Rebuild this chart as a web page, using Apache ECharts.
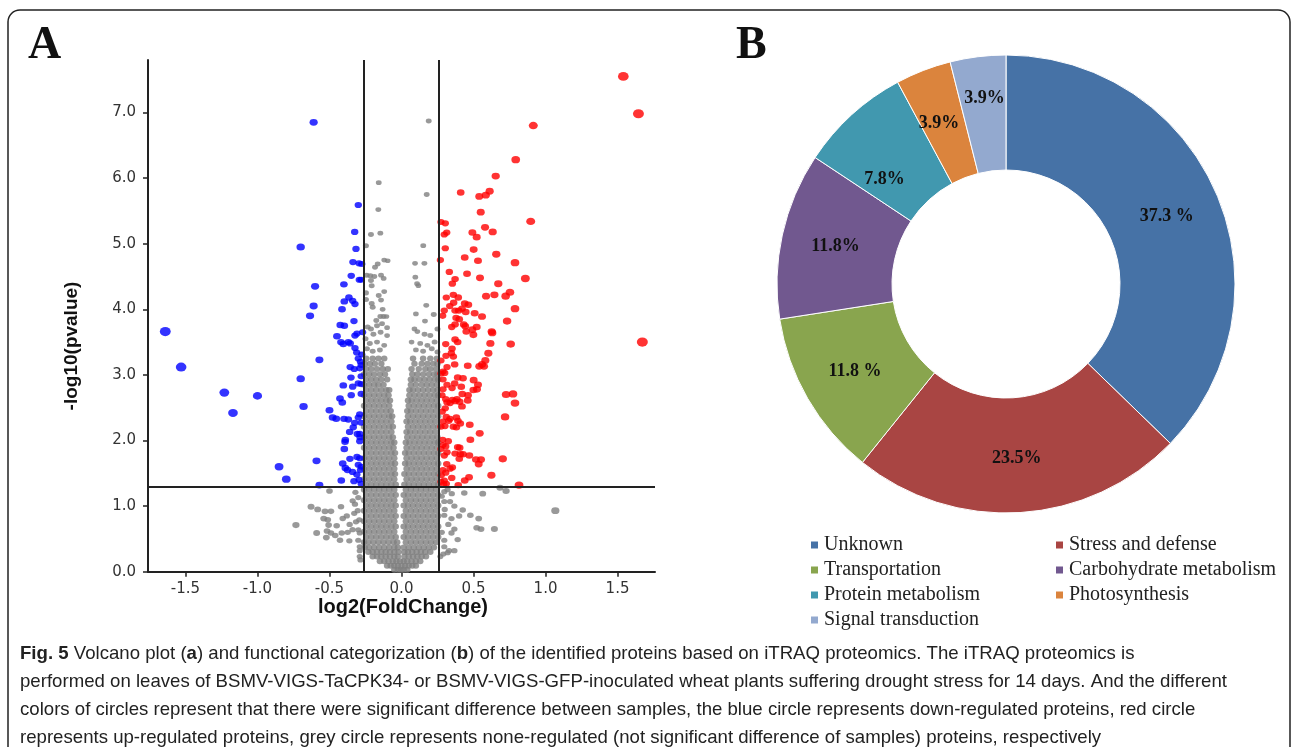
<!DOCTYPE html>
<html>
<head>
<meta charset="utf-8">
<script src="https://cdn.jsdelivr.net/npm/echarts@6/dist/echarts.min.js"></script>
<style>
html,body{margin:0;padding:0;background:#fff;}
#main{width:1293px;height:747px;}
</style>
</head>
<body>
<div id="main"></div>
<script>
// A: volcano plot, -log10(p) against log2(fold change)
var foldCut = [-0.263, 0.263];
var pCut = 1.301;
var xTicks = [-1.5, -1.0, -0.5, 0.0, 0.5, 1.0, 1.5];
var yTicks = [0, 1, 2, 3, 4, 5, 6, 7];

// down-regulated (blue)
var downPoints = [
  [-1.64,3.66],[-1.53,3.12],[-1.23,2.73],[-1.17,2.42],[-1.0,2.68],[-0.85,1.60],[-0.80,1.41],
  [-0.61,6.85],[-0.70,4.95],[-0.60,4.35],[-0.61,4.05],[-0.635,3.90],[-0.57,3.23],[-0.70,2.94],
  [-0.68,2.52],[-0.59,1.69],[-0.57,1.32],[-0.50,2.46],[-0.478,2.35],[-0.453,2.33],[-0.448,3.59],
  [-0.30,5.59],[-0.325,5.18],[-0.316,4.92],[-0.337,4.72],[-0.295,4.70],[-0.276,4.69],[-0.349,4.51],
  [-0.293,4.45],[-0.28,4.45],[-0.40,4.38],[-0.365,4.18],[-0.397,4.12],[-0.339,4.13],[-0.323,4.08],
  [-0.413,4.0],[-0.33,3.82],[-0.425,3.76],[-0.397,3.75],[-0.323,3.60],[-0.309,3.63],[-0.27,3.65],
  [-0.42,3.50],[-0.404,3.47],[-0.369,3.50],[-0.356,3.48],[-0.323,3.41],[-0.311,3.34],[-0.276,3.31],
  [-0.30,3.25],[-0.285,3.20],[-0.28,3.15],[-0.29,3.10],[-0.356,3.12],[-0.328,3.09],[-0.28,2.98],
  [-0.351,2.96],[-0.30,2.87],[-0.28,2.86],[-0.404,2.84],[-0.339,2.82],[-0.28,2.71],[-0.349,2.69],
  [-0.427,2.64],[-0.411,2.58],[-0.29,2.40],[-0.30,2.35],[-0.399,2.33],[-0.369,2.32],[-0.325,2.27],
  [-0.28,2.27],[-0.335,2.20],[-0.36,2.13],[-0.307,2.10],[-0.29,2.10],[-0.288,2.05],[-0.29,1.99],
  [-0.39,2.01],[-0.392,1.98],[-0.397,1.87],[-0.309,1.75],[-0.29,1.73],[-0.358,1.72],[-0.408,1.65],
  [-0.39,1.58],[-0.375,1.55],[-0.30,1.63],[-0.28,1.60],[-0.34,1.52],[-0.31,1.48],[-0.285,1.55],
  [-0.418,1.39],[-0.33,1.38],[-0.295,1.40],[-0.28,1.34]
];

// up-regulated (red)
var upPoints = [
  [1.54,7.55],[1.645,6.98],[1.672,3.50],[0.915,6.80],[0.793,6.28],[0.654,6.03],[0.411,5.78],
  [0.54,5.72],[0.585,5.74],[0.612,5.80],[0.55,5.48],[0.897,5.34],[0.274,5.33],[0.304,5.31],
  [0.297,5.14],[0.314,5.17],[0.492,5.17],[0.522,5.10],[0.58,5.25],[0.633,5.18],[0.304,4.93],
  [0.501,4.91],[0.439,4.79],[0.531,4.74],[0.658,4.84],[0.788,4.71],[0.27,4.75],[0.332,4.57],
  [0.455,4.54],[0.372,4.46],[0.353,4.39],[0.545,4.48],[0.672,4.39],[0.86,4.47],[0.753,4.26],
  [0.723,4.20],[0.587,4.20],[0.645,4.22],[0.311,4.18],[0.36,4.22],[0.394,4.18],[0.788,4.01],
  [0.335,4.05],[0.297,3.98],[0.286,3.90],[0.362,4.10],[0.372,3.98],[0.397,3.98],[0.42,4.01],
  [0.439,4.09],[0.464,4.07],[0.446,3.96],[0.508,3.94],[0.559,3.89],[0.379,3.87],[0.401,3.85],
  [0.349,3.73],[0.372,3.77],[0.432,3.77],[0.443,3.74],[0.733,3.82],[0.45,3.66],[0.492,3.69],
  [0.522,3.73],[0.626,3.66],[0.63,3.64],[0.499,3.61],[0.372,3.54],[0.39,3.50],[0.307,3.47],
  [0.617,3.48],[0.758,3.47],[0.351,3.40],[0.346,3.33],[0.603,3.33],[0.309,3.29],[0.36,3.28],
  [0.582,3.22],[0.274,3.22],[0.54,3.13],[0.559,3.16],[0.573,3.13],[0.316,3.12],[0.369,3.16],
  [0.46,3.14],[0.288,3.05],[0.274,3.02],[0.30,3.03],[0.39,2.96],[0.427,2.95],[0.288,2.93],
  [0.501,2.92],[0.316,2.85],[0.369,2.87],[0.415,2.82],[0.499,2.77],[0.524,2.78],[0.531,2.85],
  [0.288,2.78],[0.351,2.80],[0.726,2.70],[0.774,2.71],[0.422,2.71],[0.462,2.69],[0.281,2.69],
  [0.307,2.63],[0.316,2.58],[0.353,2.62],[0.385,2.63],[0.404,2.59],[0.337,2.57],[0.372,2.60],
  [0.46,2.61],[0.42,2.52],[0.788,2.57],[0.304,2.49],[0.283,2.44],[0.719,2.36],[0.311,2.36],
  [0.381,2.35],[0.392,2.30],[0.288,2.29],[0.328,2.30],[0.337,2.33],[0.36,2.21],[0.381,2.20],
  [0.408,2.26],[0.474,2.24],[0.274,2.21],[0.302,2.22],[0.543,2.11],[0.286,2.01],[0.325,1.99],
  [0.478,2.01],[0.288,1.93],[0.307,1.91],[0.274,1.87],[0.39,1.90],[0.404,1.89],[0.372,1.80],
  [0.408,1.79],[0.427,1.79],[0.471,1.77],[0.316,1.82],[0.297,1.77],[0.401,1.72],[0.517,1.71],
  [0.552,1.71],[0.703,1.72],[0.536,1.64],[0.314,1.64],[0.353,1.59],[0.337,1.57],[0.288,1.55],
  [0.307,1.51],[0.276,1.47],[0.624,1.47],[0.469,1.44],[0.439,1.39],[0.349,1.43],[0.297,1.39],
  [0.274,1.37],[0.394,1.32],[0.293,1.33],[0.311,1.34],[0.816,1.32]
];

// not regulated (grey): dense core, one row per -log10(p) level: [y, x, x, ...]
var greyCoreRows = [
  [0.03,-0.05,-0.025,-0.005,0.015,0.04],
  [0.09,-0.10,-0.075,-0.05,-0.025,0.0,0.025,0.05,0.075,0.10],
  [0.16,-0.15,-0.12,-0.09,-0.06,-0.035,-0.01,0.015,0.04,0.07,0.10,0.13],
  [0.23,-0.20,-0.17,-0.14,-0.11,-0.08,-0.05,-0.025,0.02,0.05,0.08,0.11,0.14,0.17],
  [0.30,-0.23,-0.20,-0.17,-0.14,-0.11,-0.08,-0.05,-0.02,0.02,0.045,0.075,0.105,0.135,0.165,0.20],
  [0.37,-0.255,-0.225,-0.19,-0.155,-0.12,-0.085,-0.05,-0.025,0.015,0.05,0.085,0.12,0.155,0.19,0.225],
  [0.45,-0.26,-0.23,-0.195,-0.16,-0.125,-0.09,-0.055,-0.03,0.03,0.065,0.10,0.135,0.17,0.205,0.24],
  [0.53,-0.245,-0.21,-0.175,-0.14,-0.105,-0.07,-0.04,0.015,0.045,0.08,0.115,0.15,0.185,0.22,0.255],
  [0.61,-0.26,-0.225,-0.19,-0.155,-0.12,-0.085,-0.05,0.03,0.065,0.10,0.135,0.17,0.205,0.24],
  [0.69,-0.245,-0.21,-0.175,-0.14,-0.105,-0.07,-0.04,0.015,0.045,0.08,0.115,0.15,0.185,0.22,0.255],
  [0.77,-0.26,-0.225,-0.19,-0.155,-0.12,-0.085,-0.05,0.03,0.065,0.10,0.135,0.17,0.205,0.24],
  [0.85,-0.245,-0.21,-0.175,-0.14,-0.105,-0.07,-0.04,0.015,0.045,0.08,0.115,0.15,0.185,0.22,0.255],
  [0.93,-0.26,-0.225,-0.19,-0.155,-0.12,-0.085,-0.05,0.03,0.065,0.10,0.135,0.17,0.205,0.24],
  [1.01,-0.245,-0.21,-0.175,-0.14,-0.105,-0.07,-0.04,0.015,0.045,0.08,0.115,0.15,0.185,0.22,0.255],
  [1.09,-0.26,-0.225,-0.19,-0.155,-0.12,-0.085,-0.05,0.03,0.065,0.10,0.135,0.17,0.205,0.24],
  [1.17,-0.245,-0.21,-0.175,-0.14,-0.105,-0.07,-0.04,0.015,0.045,0.08,0.115,0.15,0.185,0.22,0.255],
  [1.25,-0.26,-0.225,-0.19,-0.155,-0.12,-0.085,-0.05,0.03,0.065,0.10,0.135,0.17,0.205,0.24],
  [1.33,-0.245,-0.21,-0.175,-0.14,-0.105,-0.07,-0.04,0.02,0.05,0.085,0.12,0.155,0.19,0.225,0.255],
  [1.41,-0.26,-0.225,-0.19,-0.155,-0.12,-0.085,-0.05,0.035,0.07,0.105,0.14,0.175,0.21,0.245],
  [1.49,-0.245,-0.21,-0.175,-0.14,-0.105,-0.07,-0.045,0.02,0.05,0.085,0.12,0.155,0.19,0.225,0.255],
  [1.57,-0.26,-0.225,-0.19,-0.155,-0.12,-0.085,-0.05,0.035,0.07,0.105,0.14,0.175,0.21,0.245],
  [1.65,-0.245,-0.21,-0.175,-0.14,-0.105,-0.07,-0.045,0.025,0.05,0.085,0.12,0.155,0.19,0.225,0.255],
  [1.73,-0.26,-0.225,-0.19,-0.155,-0.12,-0.085,-0.05,0.035,0.07,0.105,0.14,0.175,0.21,0.245],
  [1.81,-0.245,-0.21,-0.175,-0.14,-0.105,-0.07,-0.045,0.025,0.05,0.085,0.12,0.155,0.19,0.225,0.255],
  [1.89,-0.26,-0.225,-0.19,-0.155,-0.12,-0.085,-0.055,0.035,0.07,0.105,0.14,0.175,0.21,0.245],
  [1.97,-0.245,-0.21,-0.175,-0.14,-0.105,-0.07,-0.05,0.03,0.055,0.09,0.125,0.16,0.195,0.23,0.255],
  [2.05,-0.26,-0.225,-0.19,-0.155,-0.12,-0.085,-0.06,0.04,0.075,0.11,0.145,0.18,0.215,0.25],
  [2.13,-0.245,-0.21,-0.175,-0.14,-0.105,-0.07,0.035,0.06,0.095,0.13,0.165,0.2,0.235],
  [2.21,-0.26,-0.225,-0.19,-0.155,-0.12,-0.085,-0.06,0.045,0.08,0.115,0.15,0.185,0.22,0.255],
  [2.29,-0.245,-0.21,-0.175,-0.14,-0.105,-0.07,0.035,0.06,0.095,0.13,0.165,0.2,0.235],
  [2.37,-0.26,-0.225,-0.19,-0.155,-0.12,-0.085,-0.065,0.045,0.08,0.115,0.15,0.185,0.22,0.255],
  [2.45,-0.245,-0.21,-0.175,-0.14,-0.105,-0.075,0.04,0.065,0.1,0.135,0.17,0.205,0.24],
  [2.53,-0.26,-0.225,-0.19,-0.155,-0.12,-0.085,0.05,0.085,0.12,0.155,0.19,0.225,0.255],
  [2.61,-0.245,-0.21,-0.175,-0.14,-0.105,-0.08,0.045,0.07,0.105,0.14,0.175,0.21,0.245],
  [2.69,-0.26,-0.225,-0.19,-0.155,-0.12,-0.09,0.055,0.09,0.125,0.16,0.195,0.23,0.255],
  [2.77,-0.245,-0.21,-0.175,-0.14,-0.105,-0.085,0.055,0.08,0.115,0.15,0.185,0.22,0.25],
  [2.85,-0.26,-0.225,-0.19,-0.16,-0.125,0.065,0.1,0.14,0.175,0.21,0.245],
  [2.93,-0.245,-0.21,-0.175,-0.14,-0.1,0.065,0.09,0.125,0.16,0.195,0.23,0.255],
  [3.01,-0.26,-0.225,-0.19,-0.15,-0.115,0.075,0.11,0.15,0.19,0.225,0.25],
  [3.09,-0.245,-0.21,-0.17,-0.13,-0.095,0.07,0.12,0.165,0.2,0.24],
  [3.17,-0.255,-0.22,-0.185,-0.14,0.09,0.14,0.18,0.22,0.25],
  [3.25,-0.245,-0.2,-0.16,-0.12,0.08,0.15,0.2,0.245]
];

// not regulated (grey): sparse points above the core and outside the fold lines
var greyLoosePoints = [
  [-0.158,5.93],[-0.161,5.52],[-0.212,5.14],[-0.147,5.16],[-0.247,4.97],[-0.12,4.75],[-0.096,4.74],
  [-0.165,4.69],[-0.184,4.64],[-0.242,4.52],[-0.217,4.51],[-0.189,4.50],[-0.142,4.52],[-0.124,4.47],
  [-0.212,4.44],[-0.207,4.36],[-0.247,4.25],[-0.158,4.21],[-0.12,4.27],[-0.247,4.15],[-0.142,4.14],
  [-0.207,4.09],[-0.20,4.03],[-0.131,4.0],[-0.147,3.89],[-0.125,3.89],[-0.105,3.89],[-0.175,3.83],
  [-0.235,3.73],[-0.212,3.70],[-0.17,3.75],[-0.135,3.78],[-0.10,3.72],[-0.195,3.62],[-0.145,3.65],
  [-0.10,3.60],[-0.25,3.55],[-0.22,3.48],[-0.17,3.50],[-0.12,3.45],[-0.24,3.40],[-0.20,3.36],[-0.15,3.38],
  [0.189,6.87],[0.175,5.75],[0.151,4.97],[0.094,4.70],[0.159,4.70],[0.096,4.49],[0.108,4.39],
  [0.117,4.36],[0.172,4.06],[0.10,3.93],[0.163,3.82],[0.224,3.92],[0.09,3.70],[0.11,3.66],[0.16,3.62],
  [0.20,3.60],[0.25,3.70],[0.07,3.50],[0.13,3.48],[0.18,3.45],[0.23,3.50],[0.10,3.38],[0.15,3.36],
  [0.21,3.40],[0.25,3.35],
  [-0.50,1.23],[-0.628,0.99],[-0.582,0.95],[-0.531,0.92],[-0.49,0.92],[-0.733,0.71],[-0.589,0.59],
  [-0.54,0.81],[-0.512,0.79],[-0.506,0.71],[-0.517,0.62],[-0.49,0.59],[-0.522,0.52],[-0.42,0.99],
  [-0.408,0.81],[-0.38,0.85],[-0.415,0.59],[-0.374,0.60],[-0.427,0.48],[-0.362,0.47],[-0.339,1.08],
  [-0.323,1.03],[-0.328,0.89],[-0.304,0.93],[-0.316,0.76],[-0.293,0.79],[-0.34,0.64],[-0.30,0.64],
  [-0.29,0.59],[-0.30,0.48],[-0.29,0.38],[-0.29,0.32],[-0.29,0.23],[-0.285,0.18],[-0.32,1.21],
  [-0.30,1.13],[-0.36,0.72],[-0.45,0.70],[-0.46,0.55],
  [0.297,1.22],[0.32,1.25],[0.349,1.19],[0.436,1.20],[0.564,1.19],[0.684,1.28],[0.726,1.23],
  [0.297,1.07],[0.337,1.07],[0.367,1.00],[0.425,0.94],[0.478,0.86],[0.536,0.81],[1.068,0.93],
  [0.522,0.67],[0.552,0.65],[0.645,0.65],[0.297,0.86],[0.347,0.81],[0.367,0.65],[0.347,0.59],
  [0.297,0.48],[0.39,0.49],[0.367,0.32],[0.33,0.32],[0.297,0.38],[0.32,0.29],[0.325,0.72],
  [0.27,0.23],[0.29,0.27],[0.40,0.85],[0.30,0.95],[0.28,0.60],[0.28,1.15]
];

// B: functional categories of the 51 regulated proteins
var categoryNames = ['Unknown', 'Stress and defense', 'Transportation', 'Carbohydrate metabolism',
  'Protein metabolism', 'Photosynthesis', 'Signal transduction'];
var categoryCounts = [19, 12, 6, 6, 4, 2, 2];
var categoryLabels = ['37.3 %', '23.5%', '11.8 %', '11.8%', '7.8%', '3.9%', '3.9%'];

var sliceColors = ['#4672a6', '#a94543', '#89a54e', '#71588f', '#4198af', '#db843d', '#93a9cf'];
var labelShift = [[0,0],[0,0],[0,0],[0,0],[-4,24],[-4,2],[0,-12]];

var greyCore = [];
greyCoreRows.forEach(function(r) {
  for (var i = 1; i < r.length; i++) greyCore.push([r[i], r[0]]);
});

function dotSize(base) {
  return function(v) {
    var s = Math.min(10, base + 2.2 * Math.abs(v[0]));
    return [s * 1.2, s];
  };
}

var pieData = categoryNames.map(function(n, i) {
  return {
    name: n,
    value: categoryCounts[i],
    itemStyle: {color: sliceColors[i]},
    label: {formatter: categoryLabels[i], offset: labelShift[i]}
  };
});

var axisFont = {fontFamily: 'DejaVu Sans', fontSize: 15, color: '#333'};

var chart = echarts.init(document.getElementById('main'), null, {renderer: 'canvas'});

// caption is condensed in the figure: squeeze Liberation Sans to the measured line width
var capFont = '19px "Liberation Sans"';
var ctx = document.createElement('canvas').getContext('2d');
ctx.font = capFont;
var capLines = [
  '{b|Fig. 5} Volcano plot ({b|a}) and functional categorization ({b|b}) of the identified proteins based on iTRAQ proteomics. The iTRAQ proteomics is',
  'performed on leaves of BSMV-VIGS-TaCPK34- or BSMV-VIGS-GFP-inoculated wheat plants suffering drought stress for 14 days. And the different',
  'colors of circles represent that there were significant difference between samples, the blue circle represents down-regulated proteins, red circle',
  'represents up-regulated proteins, grey circle represents none-regulated (not significant difference of samples) proteins, respectively'
];
var capScale = 1207 / ctx.measureText(capLines[1]).width;

var graphics = [
  {type: 'rect', shape: {x: 8, y: 10, width: 1282, height: 780, r: 12},
   style: {fill: 'none', stroke: '#222', lineWidth: 1.5}, silent: true},
  {type: 'text', x: 28, y: 46, style: {text: 'A', font: 'bold 46px "Liberation Serif"', fill: '#111', verticalAlign: 'middle'}},
  {type: 'text', x: 736, y: 46, style: {text: 'B', font: 'bold 46px "Liberation Serif"', fill: '#111', verticalAlign: 'middle'}},
  {type: 'text', x: 72, y: 346, rotation: Math.PI / 2,
   style: {text: '-log10(pvalue)', font: 'bold 19px "Liberation Sans"', fill: '#111', align: 'center', verticalAlign: 'middle'}},
  {type: 'text', x: 403, y: 607,
   style: {text: 'log2(FoldChange)', font: 'bold 20px "Liberation Sans"', fill: '#111', align: 'center', verticalAlign: 'middle'}}
];
var capY = [654, 682, 710, 738];
capLines.forEach(function(t, i) {
  graphics.push({
    type: 'text', x: 20, y: capY[i], scaleX: capScale, originX: 0,
    style: {
      text: t, font: capFont, fill: '#222', verticalAlign: 'middle',
      rich: {b: {fontWeight: 'bold', fontFamily: 'Liberation Sans', fontSize: 19, fill: '#222'}}
    }
  });
});

var option = {
  animation: false,
  backgroundColor: '#fff',
  grid: {left: 148, top: 60, width: 507, height: 511.7, containLabel: false},
  xAxis: {
    type: 'value', min: -1.76, max: 1.76,
    axisLine: {show: true, onZero: false, lineStyle: {color: '#222', width: 2}},
    axisTick: {show: true, customValues: xTicks, length: 5, lineStyle: {color: '#222', width: 1.5}},
    axisLabel: Object.assign({customValues: xTicks, margin: 10, formatter: function(v) { return v.toFixed(1); }}, axisFont),
    splitLine: {show: false}
  },
  yAxis: {
    type: 'value', min: 0, max: 7.8,
    axisLine: {show: true, onZero: false, lineStyle: {color: '#222', width: 2}},
    axisTick: {show: true, customValues: yTicks, length: 5, lineStyle: {color: '#222', width: 1.5}},
    axisLabel: Object.assign({customValues: yTicks, margin: 12, formatter: function(v) { return v.toFixed(1); }}, axisFont),
    splitLine: {show: false}
  },
  legend: [
    {data: ['Unknown', 'Transportation', 'Protein metabolism', 'Signal transduction'],
     left: 804, top: 530, orient: 'vertical', itemGap: 5, itemWidth: 9, itemHeight: 9,
     icon: 'rect', selectedMode: false,
     textStyle: {fontFamily: 'Liberation Serif', fontSize: 20, lineHeight: 20, color: '#222'}},
    {data: ['Stress and defense', 'Carbohydrate metabolism', 'Photosynthesis'],
     left: 1049, top: 530, orient: 'vertical', itemGap: 5, itemWidth: 9, itemHeight: 9,
     icon: 'rect', selectedMode: false,
     textStyle: {fontFamily: 'Liberation Serif', fontSize: 20, lineHeight: 20, color: '#222'}}
  ],
  series: [
    {type: 'scatter', name: 'core', data: greyCore, symbolSize: [6.5, 6],
     itemStyle: {color: '#808080'}, silent: true, z: 2},
    {type: 'scatter', name: 'loose', data: greyLoosePoints, symbolSize: dotSize(4.5),
     itemStyle: {color: '#808080'}, silent: true, z: 2},
    {type: 'scatter', name: 'down', data: downPoints, symbolSize: dotSize(5.5),
     itemStyle: {color: '#0000ff'}, silent: true, z: 3},
    {type: 'scatter', name: 'up', data: upPoints, symbolSize: dotSize(5.5),
     itemStyle: {color: '#ff0000'}, silent: true, z: 3},
    {type: 'scatter', name: 'cut', data: [], z: 5, silent: true,
     markLine: {
       silent: true, symbol: 'none', animation: false,
       label: {show: false},
       lineStyle: {color: '#222', width: 2, type: 'solid'},
       data: [{xAxis: foldCut[0]}, {xAxis: foldCut[1]}, {yAxis: pCut}]
     }},
    {type: 'pie', center: [1006, 284], radius: [114, 229], startAngle: 90, clockwise: true,
     avoidLabelOverlap: false, silent: true,
     itemStyle: {borderColor: '#fff', borderWidth: 1},
     label: {show: true, position: 'inside', fontFamily: 'Liberation Serif', fontWeight: 'bold',
             fontSize: 18, color: '#111', textBorderWidth: 0},
     labelLine: {show: false},
     data: pieData}
  ],
  graphic: graphics
};
chart.setOption(option);
</script>
</body>
</html>
